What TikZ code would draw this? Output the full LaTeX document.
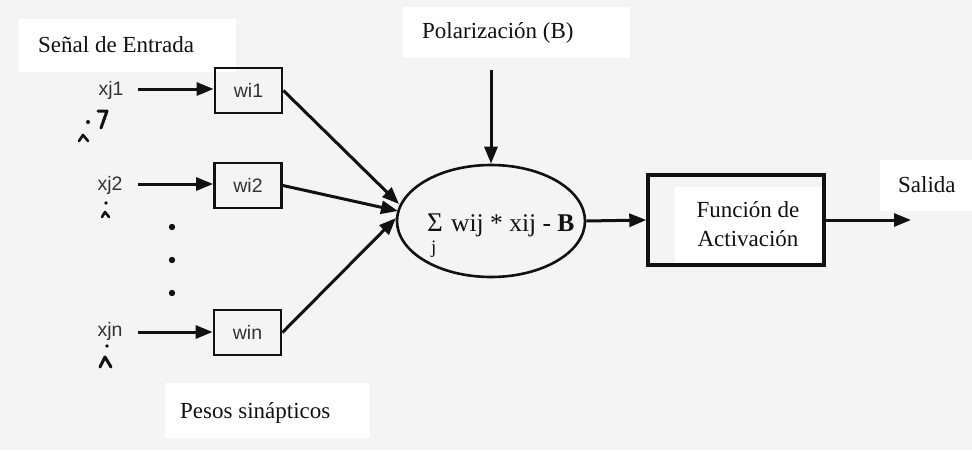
\documentclass[tikz,border=0pt]{standalone}
\usepackage{fontspec}
\setmainfont{Liberation Serif}
\newfontfamily\labelsans{Liberation Sans}
\usetikzlibrary{arrows.meta,shapes.geometric}
\definecolor{paper}{HTML}{F4F4F4}
\definecolor{ink}{HTML}{111111}
\definecolor{softink}{HTML}{333333}
\begin{document}
\begin{tikzpicture}[x=1pt,y=-1pt,
  serif/.style={font=\fontsize{23}{27}\selectfont, text=ink, inner sep=0pt},
  sanslbl/.style={font=\labelsans\fontsize{19.5}{21}\selectfont, text=softink, inner sep=0pt},
  wbox/.style={draw=ink, line width=2.8pt, minimum width=67pt, minimum height=45pt, inner sep=0pt,
    font=\labelsans\fontsize{19.5}{21}\selectfont, text=softink},
  arr/.style={draw=ink, line width=3pt, -{Triangle[length=17pt,width=13pt]}},
  tick/.style={draw=ink, line width=3pt, line cap=round, line join=round},
  patch/.style={fill=white}
]
\useasboundingbox (0,0) rectangle (972,450);
\fill[paper] (0,0) rectangle (972,450);

% white label panels
\fill[patch] (19,19) rectangle (236,72);
\fill[patch] (403,7) rectangle (630,58);
\fill[patch] (165,383) rectangle (370,438);
\fill[patch] (880,160) rectangle (972,211);

% titles
\node[serif, anchor=base west] (tin) at (38,52) {Señal de Entrada};
\node[serif, anchor=base west] (tbias) at (422,38) {Polarización (B)};
\node[serif, anchor=base west] (tweights) at (180,418) {Pesos sinápticos};
\node[serif, anchor=base west] (tout) at (898,192) {Salida};

% inputs
\node[sanslbl] (xa) at (111,90) {xj1};
\node[sanslbl] (xb) at (110,185) {xj2};
\node[sanslbl] (xn) at (110,331) {xjn};

% weight boxes
\node[wbox] (w1) at (248.5,90.5) {wi1};
\node[wbox] (w2) at (248,185.5) {wi2};
\node[wbox] (wn) at (247.5,332.5) {win};

\coordinate (sa) at (138,89);
\coordinate (sb) at (138,184);
\coordinate (sn) at (138,332);
\draw[arr] (sa) -- (sa -| w1.west);
\draw[arr] (sb) -- (sb -| w2.west);
\draw[arr] (sn) -- (sn -| wn.west);

% vertical ellipsis between the inputs
\fill[ink] (172,227) circle (3.2pt) (172,260) circle (3.2pt) (172,293) circle (3.2pt);

% small marks below the input labels
\fill[ink] (88,122) circle (2pt);
\draw[tick] (98,111) -- (107,111) -- (101,128);
\draw[tick, line width=2.6pt] (79,141) -- (83,135) -- (88,141);
\fill[ink] (106,203) circle (1.8pt);
\draw[tick, line width=2.6pt] (102,217) -- (105,212) -- (109,217);
\fill[ink] (107,346) circle (1.8pt);
\draw[tick] (100,367) -- (105,357) -- (111,367);

% summing unit
\node[draw=ink, ellipse, line width=2.6pt, minimum width=188pt, minimum height=112pt] (sum) at (491,221) {};
\node[serif, font=\fontsize{27}{29}\selectfont, anchor=base west] (sig) at (427,231) {Σ};
\node[serif, font=\fontsize{19}{22}\selectfont, anchor=base west] (sj) at (431,253) {j};
\node[serif, font=\fontsize{25.5}{27}\selectfont, anchor=base west] (sexpr) at (451,231) {wij * xij - \textbf{B}};

% weighted inputs into the sum
\coordinate (ea) at (399,204);
\coordinate (eb) at (398,211);
\coordinate (en) at (396,218);
\draw[arr] (w1.east) -- (ea);
\draw[arr] (w2.east) -- (eb);
\draw[arr] (wn.east) -- (en);

% bias input
\coordinate (bsrc) at (491,70);
\draw[arr] (bsrc) -- (sum.north);

% activation block
\node[draw=ink, line width=3.4pt, minimum width=176pt, minimum height=90pt, inner sep=0pt] (act) at (736,220) {};
\fill[patch] (675,187) rectangle (822,263);
\node[serif] (actA) at (748,210) {Función de};
\node[serif] (actB) at (748,239) {Activación};

\draw[arr] (sum.east) -- (act.west);
\coordinate (yout) at (911,220);
\draw[arr] (act.east) -- (yout);
\end{tikzpicture}
\end{document}
